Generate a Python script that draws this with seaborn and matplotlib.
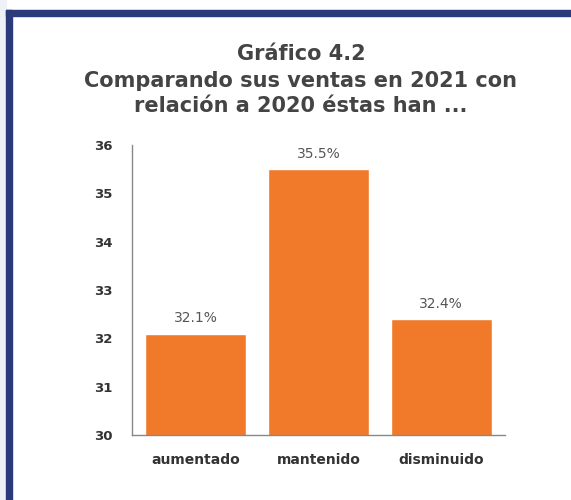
import matplotlib
matplotlib.use("Agg")
import matplotlib.pyplot as plt
import seaborn as sns
import pandas as pd
from matplotlib.patches import Rectangle
from matplotlib.ticker import FixedLocator

categories = ["aumentado", "mantenido", "disminuido"]
values = [32.1, 35.5, 32.4]
value_labels = ["32.1%", "35.5%", "32.4%"]
y_ticks = [30, 31, 32, 33, 34, 35, 36]
title_lines = ["Gráfico 4.2", "Comparando sus ventas en 2021 con", "relación a 2020 éstas han ..."]

sns.set_style("white")
plt.rcParams['font.family'] = ['DejaVu Sans']

df = pd.DataFrame({"cat": categories, "val": values})

fig = plt.figure(figsize=(5.71, 5.00), dpi=100)
W, H = 571, 500
# background outer strip and frame
fig.patches.append(Rectangle((0, 0), 6 / W, 1, transform=fig.transFigure, color="#eef2f8", zorder=0))
fig.patches.append(Rectangle((6 / W, 0), 6 / W, 1 - 10 / H, transform=fig.transFigure, color="#2b3a7a", zorder=1))
fig.patches.append(Rectangle((6 / W, 1 - 16 / H), 1 - 6 / W, 6 / H, transform=fig.transFigure, color="#2b3a7a", zorder=1))

ax = fig.add_axes([132 / W, 1 - 435 / H, (505 - 132) / W, (435 - 145) / H])
sns.barplot(data=df, x="cat", y="val", color="#f07a2a", saturation=1, width=0.82, ax=ax)
ax.set_ylim(30, 36)
ax.set_xlim(-0.52, 2.52)
ax.set_yticks(y_ticks)
ax.set_yticklabels([str(t) for t in y_ticks], fontsize=9.5, fontweight="bold", color="#333333")
ax.set_xlabel("")
ax.set_ylabel("")
ax.tick_params(axis="x", length=0, labelsize=10, pad=13, labelcolor="#333333")
for lab in ax.get_xticklabels():
    lab.set_fontweight("bold")
ax.xaxis.set_minor_locator(FixedLocator([0.5, 1.5]))
ax.tick_params(axis="x", which="minor", length=4, direction="out", color="#888888", width=1)
ax.tick_params(axis="y", length=4, direction="out", color="#888888", width=1, pad=10)
for s in ["top", "right"]:
    ax.spines[s].set_visible(False)
for s in ["left", "bottom"]:
    ax.spines[s].set_color("#888888")
    ax.spines[s].set_linewidth(1)

for i, (v, lab) in enumerate(zip(values, value_labels)):
    ax.text(i, v + 0.17, lab, ha="center", va="bottom", fontsize=10, color="#555555")

title_y = [54, 81, 106]
for line, yy in zip(title_lines, title_y):
    fig.text(0.527, 1 - yy / H, line, ha="center", va="center", fontsize=15, fontweight="bold", color="#444444")

fig.savefig("out.png", dpi=100)
